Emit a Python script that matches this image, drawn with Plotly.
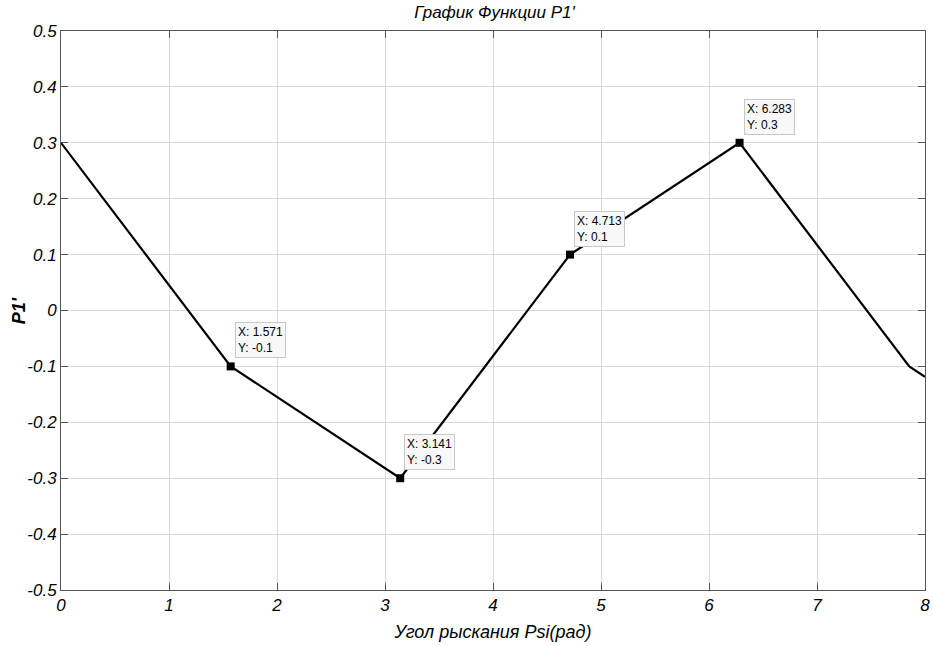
import plotly.graph_objects as go

x_vals = [0, 1.571, 3.141, 4.713, 6.283, 7.854, 8.0]
y_vals = [0.3, -0.1, -0.3, 0.1, 0.3, -0.1, -0.1186]

tip_x = [1.571, 3.141, 4.713, 6.283]
tip_y = [-0.1, -0.3, 0.1, 0.3]
tip_labels = ["X: 1.571<br>Y: -0.1", "X: 3.141<br>Y: -0.3", "X: 4.713<br>Y: 0.1", "X: 6.283<br>Y: 0.3"]

x_ticks = [0, 1, 2, 3, 4, 5, 6, 7, 8]
x_ticktext = ["0", "1", "2", "3", "4", "5", "6", "7", "8"]
y_ticks = [0.5, 0.4, 0.3, 0.2, 0.1, 0, -0.1, -0.2, -0.3, -0.4, -0.5]
y_ticktext = ["0.5", "0.4", "0.3", "0.2", "0.1", "0", "-0.1", "-0.2", "-0.3", "-0.4", "-0.5"]

title_text = "График Функции P1'"
x_title = "Угол рыскания Psi(рад)"
y_title = "P1'"

FONT = "Liberation Sans Narrow, Liberation Sans, Arial Narrow, sans-serif"

fig = go.Figure()
fig.add_trace(go.Scatter(x=x_vals, y=y_vals, mode="lines",
                         line=dict(color="black", width=2.2), hoverinfo="skip"))
fig.add_trace(go.Scatter(x=tip_x, y=tip_y, mode="markers",
                         marker=dict(symbol="square", size=8, color="black"), hoverinfo="skip"))

for tx, ty, lab in zip(tip_x, tip_y, tip_labels):
    fig.add_annotation(x=tx, y=ty, text=lab, showarrow=False, xanchor="left", yanchor="bottom",
                       xshift=4, yshift=8, align="left",
                       font=dict(family=FONT, size=12, color="black"),
                       bgcolor="#f8f8f8", bordercolor="#c8c8c8", borderwidth=1, borderpad=2)

# y-axis title placed as a rotated annotation
fig.add_annotation(xref="paper", yref="paper", x=-0.049, y=0.5, text="<b>" + y_title + "</b>",
                   showarrow=False, textangle=-90, xanchor="center", yanchor="middle",
                   font=dict(family=FONT, size=18, color="black", style="italic"))

axis_common = dict(showgrid=True, gridcolor="#d9d9d9", gridwidth=1, showline=True, linecolor="#555555",
                   linewidth=1, mirror="ticks", ticks="inside", ticklen=7, tickcolor="#555555",
                   zeroline=False, automargin=False,
                   tickfont=dict(family=FONT, size=17, color="black", style="italic"))

fig.update_xaxes(range=[0, 8], tickvals=x_ticks, ticktext=x_ticktext,
                 title=dict(text=x_title, font=dict(family=FONT, size=18, color="black", style="italic"), standoff=10),
                 **axis_common)
fig.update_yaxes(range=[-0.5, 0.5], tickvals=y_ticks, ticktext=y_ticktext, **axis_common)

fig.update_layout(width=933, height=646, margin=dict(l=61, r=8, t=31, b=56),
                  paper_bgcolor="white", plot_bgcolor="white", showlegend=False,
                  title=dict(text=title_text, x=0.53, xanchor="center", y=0.982, yanchor="middle",
                             font=dict(family=FONT, size=17, color="black", style="italic")))

fig.write_html("out.html")
